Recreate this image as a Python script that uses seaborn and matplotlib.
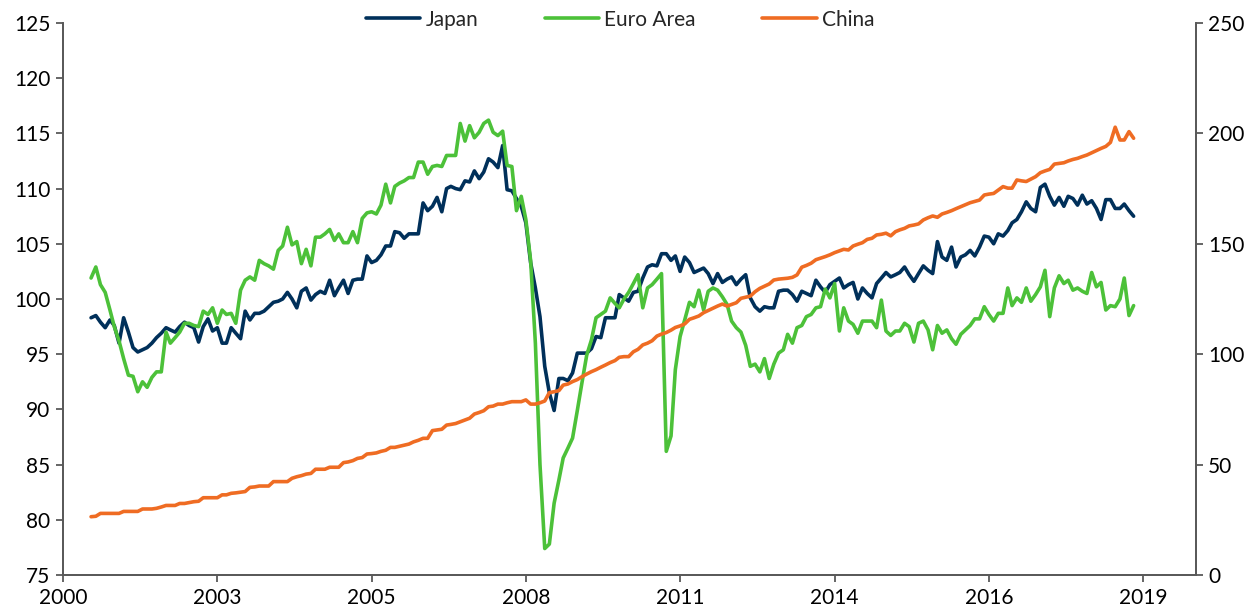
import numpy as np
import pandas as pd
import matplotlib
matplotlib.use("Agg")
import matplotlib.pyplot as plt
import matplotlib.dates as mdates
import seaborn as sns

sns.set_theme(style="white")
plt.rcParams["font.family"] = ["Lato", "DejaVu Sans"]

# monthly series, Oct 2000 - May 2019
japan = [
    98.3, 98.5, 97.9, 97.4, 98.1, 97.6, 96.0, 98.3, 97.0, 95.6, 95.2, 95.4,
    95.6, 96.0, 96.5, 96.9, 97.4, 97.2, 97.0, 97.5, 97.9, 97.6, 97.4, 96.1,
    97.5, 98.2, 97.1, 97.4, 96.0, 96.0, 97.4, 96.9, 96.4, 98.9, 98.1, 98.7,
    98.7, 98.9, 99.3, 99.7, 99.8, 100.0, 100.6, 100.0, 99.2, 100.7, 101.0, 99.9,
    100.4, 100.7, 100.5, 101.7, 100.3, 101.0, 101.7, 100.5, 101.7, 101.8, 101.8, 103.9,
    103.3, 103.5, 104.0, 104.8, 104.8, 106.1, 106.0, 105.5, 105.9, 105.9, 105.9, 108.7,
    108.0, 108.4, 109.2, 107.9, 110.0, 110.2, 110.0, 109.9, 110.7, 110.6, 111.6, 110.9,
    111.5, 112.7, 112.4, 111.9, 113.9, 109.9, 109.8, 109.1, 108.4, 106.9, 103.3, 101.0,
    98.4, 93.9, 91.5, 89.9, 92.8, 92.8, 92.6, 93.3, 95.1, 95.1, 95.1, 95.5,
    96.6, 96.5, 98.3, 98.3, 98.3, 100.4, 100.1, 99.8, 100.6, 100.7, 101.9, 102.9,
    103.1, 103.0, 104.1, 104.1, 103.5, 103.9, 102.5, 103.8, 103.3, 102.4, 102.6, 102.8,
    102.3, 101.4, 102.3, 101.5, 101.8, 102.0, 101.3, 101.8, 102.2, 100.1, 99.3, 98.9,
    99.3, 99.2, 99.2, 100.7, 100.8, 100.8, 100.4, 99.8, 100.7, 100.5, 100.3, 101.7,
    101.1, 100.6, 101.3, 101.6, 101.9, 101.0, 101.3, 101.5, 100.0, 101.0, 100.5, 100.1,
    101.4, 101.9, 102.4, 102.0, 102.2, 102.4, 102.9, 102.2, 101.6, 102.3, 103.0, 102.6,
    102.3, 105.2, 103.8, 103.5, 104.7, 102.9, 103.8, 104.0, 104.4, 103.9, 104.7, 105.7,
    105.6, 105.0, 105.9, 105.7, 106.2, 106.9, 107.2, 107.9, 108.8, 108.2, 107.9, 110.1,
    110.4, 109.3, 108.5, 109.2, 108.4, 109.3, 109.1, 108.5, 109.4, 108.6, 108.9, 108.2,
    107.2, 109.0, 109.0, 108.2, 108.2, 108.6, 108.0, 107.5,
]

euro_area = [
    101.9, 102.9, 101.3, 100.6, 99.0, 97.5, 96.2, 94.6, 93.1, 93.0, 91.6, 92.5,
    92.0, 92.9, 93.4, 93.4, 97.0, 96.0, 96.5, 97.0, 97.8, 97.8, 97.6, 97.5,
    98.9, 98.6, 99.2, 97.8, 99.0, 98.6, 98.7, 97.8, 100.8, 101.7, 102.0, 101.7,
    103.5, 103.2, 103.0, 102.7, 104.4, 104.8, 106.5, 104.9, 105.2, 103.2, 104.5, 103.0,
    105.6, 105.6, 105.9, 106.3, 105.3, 105.9, 105.1, 105.1, 106.1, 105.1, 107.3, 107.8,
    107.9, 107.7, 108.5, 110.4, 108.7, 110.2, 110.5, 110.7, 111.0, 111.0, 112.4, 112.4,
    111.3, 112.0, 112.1, 112.0, 113.0, 113.0, 113.0, 115.9, 114.3, 115.7, 114.6, 115.1,
    115.9, 116.2, 115.1, 114.8, 115.2, 112.1, 112.0, 108.0, 109.3, 107.2, 103.5, 96.0,
    85.0, 77.4, 77.8, 81.5, 83.6, 85.6, 86.5, 87.4, 89.9, 92.4, 94.9, 96.3,
    98.3, 98.6, 98.9, 100.1, 99.6, 99.2, 100.0, 100.6, 101.4, 102.2, 99.2, 101.0,
    101.3, 101.8, 102.3, 86.2, 87.6, 93.6, 96.6, 98.1, 99.7, 99.3, 100.8, 99.0,
    100.7, 101.0, 100.8, 100.2, 99.5, 98.0, 97.4, 97.0, 95.8, 93.9, 94.1, 93.4,
    94.6, 92.8, 94.1, 95.1, 95.4, 96.8, 96.0, 97.4, 97.6, 98.4, 98.6, 99.2,
    99.3, 100.9, 100.1, 101.4, 97.1, 99.2, 98.0, 97.7, 96.9, 98.0, 98.0, 98.0,
    97.4, 99.9, 97.1, 96.7, 97.1, 97.1, 97.8, 97.5, 96.1, 97.8, 98.0, 97.2,
    95.4, 97.6, 96.9, 97.2, 96.4, 95.9, 96.8, 97.2, 97.6, 98.2, 98.2, 99.3,
    98.6, 98.0, 98.7, 98.7, 101.0, 99.4, 100.1, 99.7, 101.0, 99.8, 100.4, 101.1,
    102.6, 98.4, 101.0, 102.1, 101.4, 101.7, 100.8, 101.0, 100.7, 100.5, 102.4, 101.1,
    101.5, 99.0, 99.4, 99.3, 100.0, 101.9, 98.5, 99.4,
]

china = [
    26.4, 26.6, 27.9, 27.9, 27.9, 27.9, 27.9, 28.8, 28.8, 28.8, 28.8, 29.9,
    29.9, 29.9, 30.2, 30.8, 31.5, 31.5, 31.5, 32.4, 32.4, 32.8, 33.2, 33.4,
    35.0, 35.0, 35.0, 35.0, 36.3, 36.3, 37.0, 37.2, 37.5, 37.8, 39.7, 39.9,
    40.3, 40.3, 40.3, 42.3, 42.3, 42.3, 42.3, 43.8, 44.5, 45.0, 45.7, 46.0,
    47.9, 47.9, 47.9, 48.8, 48.8, 48.8, 50.9, 51.2, 51.8, 52.8, 53.2, 54.8,
    55.0, 55.3, 56.0, 56.5, 57.8, 57.8, 58.3, 58.8, 59.3, 60.3, 61.0, 61.9,
    61.9, 65.4, 65.7, 66.0, 67.9, 68.2, 68.6, 69.4, 70.2, 71.0, 72.9, 73.6,
    74.4, 76.2, 76.5, 77.4, 77.4, 78.0, 78.5, 78.5, 78.5, 79.3, 77.4, 77.4,
    78.0, 78.8, 82.6, 83.0, 83.5, 86.0, 86.5, 87.6, 88.5, 89.8, 91.0, 92.1,
    93.0, 94.1, 95.1, 96.2, 97.1, 98.6, 98.9, 98.9, 101.1, 102.2, 104.2, 105.0,
    106.1, 108.2, 109.1, 109.8, 110.9, 112.1, 112.8, 113.7, 115.8, 116.5, 117.3, 118.8,
    119.8, 120.8, 121.8, 122.7, 121.8, 122.5, 123.3, 125.3, 125.8, 126.3, 128.3, 129.8,
    130.8, 131.8, 133.6, 134.0, 134.2, 134.4, 134.8, 135.9, 139.4, 140.2, 141.2, 142.8,
    143.5, 144.2, 145.0, 146.0, 146.8, 147.5, 147.2, 149.0, 149.8, 150.5, 152.0, 152.5,
    154.0, 154.3, 154.8, 153.6, 155.5, 156.3, 157.0, 158.1, 158.5, 159.0, 160.8, 161.8,
    162.6, 162.0, 163.5, 164.2, 165.0, 165.9, 166.8, 167.7, 168.6, 169.2, 169.8, 172.1,
    172.5, 172.8, 174.3, 175.9, 175.2, 175.2, 178.9, 178.5, 178.2, 179.3, 180.4, 182.2,
    183.0, 183.7, 186.1, 186.4, 186.7, 187.5, 188.2, 188.7, 189.5, 190.2, 191.2, 192.2,
    193.2, 194.1, 195.9, 202.8, 197.0, 197.0, 200.8, 197.8,
]

dates = pd.date_range("2000-10-01", periods=len(japan), freq="MS")
df = pd.DataFrame({"date": dates, "Japan": japan, "Euro Area": euro_area, "China": china})

left_ticks = [75, 80, 85, 90, 95, 100, 105, 110, 115, 120, 125]
right_ticks = [0, 50, 100, 150, 200, 250]
x_ticks = pd.date_range("2000-04-01", periods=8, freq="33MS")

c_japan = "#00305A"
c_euro = "#4CC139"
c_china = "#EF6C23"
spine_c = "#595959"

fig = plt.figure(figsize=(12.54, 6.11), dpi=100)
ax = fig.add_axes([0.0502, 0.0589, 0.9033, 0.9035])
ax2 = ax.twinx()

sns.lineplot(data=df, x="date", y="Japan", ax=ax, color=c_japan, lw=2.6, label="Japan", legend=False)
sns.lineplot(data=df, x="date", y="Euro Area", ax=ax, color=c_euro, lw=2.6, label="Euro Area", legend=False)
sns.lineplot(data=df, x="date", y="China", ax=ax2, color=c_china, lw=2.6, label="China", legend=False)

ax.set_ylim(75, 125)
ax.set_yticks(left_ticks)
ax2.set_ylim(0, 250)
ax2.set_yticks(right_ticks)
ax.set_xlim(pd.Timestamp("2000-04-01"), pd.Timestamp("2020-06-08"))
ax.set_xticks(x_ticks)
ax.xaxis.set_major_formatter(mdates.DateFormatter("%Y"))

for a in (ax, ax2):
    a.set_xlabel("")
    a.set_ylabel("")
    a.spines["top"].set_visible(False)
    for s in ("left", "right", "bottom"):
        a.spines[s].set_color(spine_c)
        a.spines[s].set_linewidth(1.3)
    a.tick_params(axis="both", which="major", length=5, width=1.3, color=spine_c,
                  labelsize=15, labelcolor="black", pad=4, direction="out")
ax.tick_params(axis="y", left=True)
ax.tick_params(axis="x", bottom=True)
ax2.tick_params(axis="y", right=True)

handles = ax.get_lines()[:2] + ax2.get_lines()[:1]
ax.legend(handles, ["Japan", "Euro Area", "China"], loc="center", bbox_to_anchor=(0.492, 1.006),
          ncol=3, frameon=False, fontsize=15, handlelength=2.6, handletextpad=0.25,
          columnspacing=3.2, borderaxespad=0)

fig.savefig("out.png", dpi=100)
